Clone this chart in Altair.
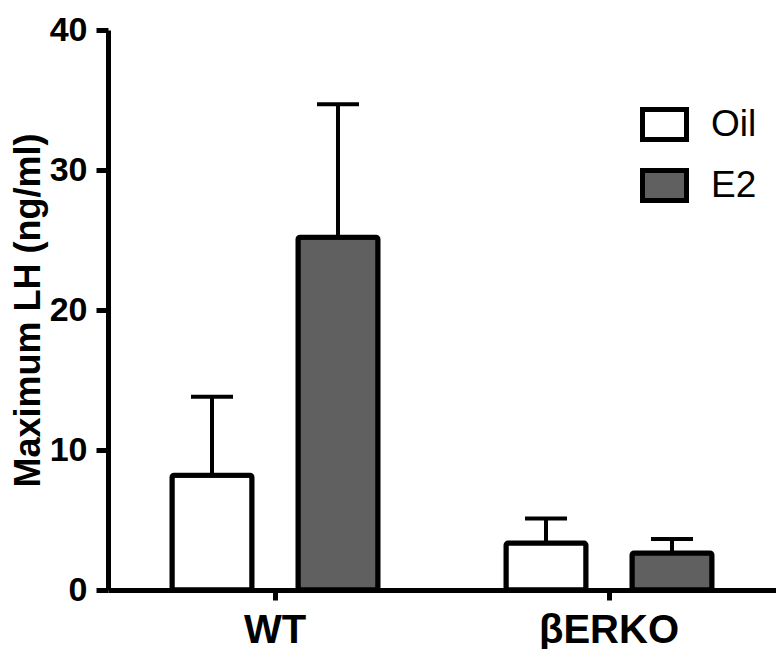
import altair as alt
import pandas as pd

groups = ["WT", "WT", "βERKO", "βERKO"]
treatments = ["Oil", "E2", "Oil", "E2"]
means = [8.2, 25.2, 3.35, 2.65]
errors = [5.6, 9.5, 1.75, 1.0]

group_order = ["WT", "βERKO"]
treat_order = ["Oil", "E2"]
fill_colors = ["#ffffff", "#606060"]
y_ticks = [0, 10, 20, 30, 40]

df = pd.DataFrame({
    "group": groups,
    "treatment": treatments,
    "mean": means,
    "err": errors,
})
df["upper"] = df["mean"] + df["err"]

FONT = "Liberation Sans"

x_axis = alt.Axis(title=None, labelAngle=0, labelAlign="center", labelBaseline="top",
                  labelFont=FONT, labelFontSize=40, labelFontWeight="bold",
                  labelColor="black", labelPadding=10,
                  domainColor="black", domainWidth=5, tickColor="black",
                  tickWidth=5, tickSize=10)
y_axis = alt.Axis(title="Maximum LH (ng/ml)", values=y_ticks, grid=False,
                  titleFont=FONT, titleFontSize=36, titleFontWeight="bold",
                  titleColor="black", titlePadding=2,
                  labelFont=FONT, labelFontSize=34, labelFontWeight="bold",
                  labelColor="black", labelPadding=9,
                  domainColor="black", domainWidth=5, tickColor="black",
                  tickWidth=5, tickSize=12)

base = alt.Chart(df).encode(
    x=alt.X("group:N", sort=group_order,
            scale=alt.Scale(paddingInner=0, paddingOuter=0), axis=x_axis),
    xOffset=alt.XOffset("treatment:N", sort=treat_order,
                        scale=alt.Scale(paddingInner=0.365, paddingOuter=0.508)),
)

bars = base.mark_bar(stroke="black", strokeWidth=5, cornerRadius=2,
                     strokeJoin="round").encode(
    y=alt.Y("mean:Q", scale=alt.Scale(domain=[0, 40], nice=False), axis=y_axis),
    fill=alt.Fill("treatment:N", sort=treat_order,
                  scale=alt.Scale(domain=treat_order, range=fill_colors),
                  legend=alt.Legend(title=None, orient="none", legendX=532, legendY=70,
                                    symbolType="M-1,-0.68H1V0.68H-1Z", symbolSize=1936,
                                    symbolStrokeColor="black", symbolStrokeWidth=5,
                                    symbolOpacity=1,
                                    labelFont=FONT, labelFontSize=37, labelColor="black",
                                    labelOffset=22, rowPadding=10, padding=0)),
)

rules = base.mark_rule(color="black", strokeWidth=4).encode(
    y=alt.Y("mean:Q"),
    y2="upper:Q",
)

caps = base.mark_tick(color="black", thickness=4, size=42, opacity=1).encode(
    y=alt.Y("upper:Q"),
)

chart = alt.layer(bars, rules, caps).properties(
    width=668, height=560,
    padding={"left": 100, "top": 22, "right": 0, "bottom": 59},
    autosize=alt.AutoSizeParams(type="none"),
).configure_view(stroke=None)

chart.save("out.html", embed_options={"renderer": "svg", "actions": False})
